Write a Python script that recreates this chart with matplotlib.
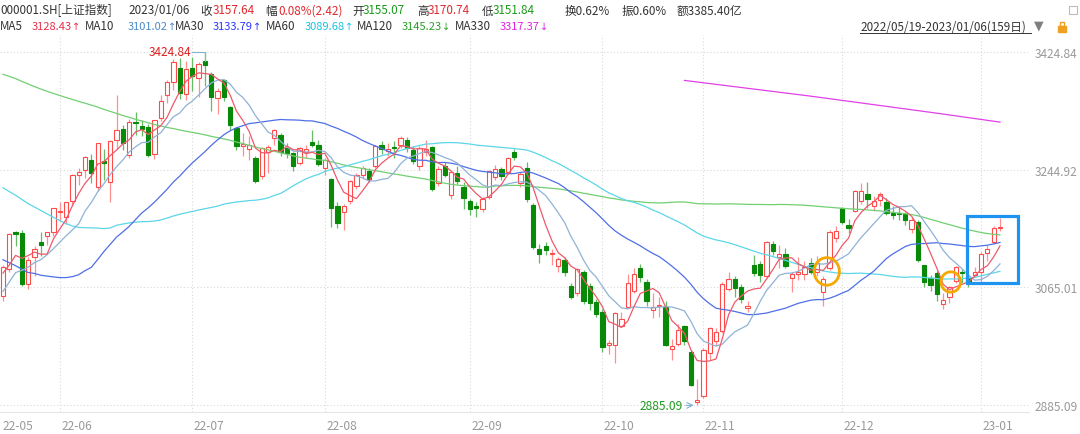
import matplotlib
matplotlib.use("Agg")
import matplotlib.pyplot as plt
from matplotlib.patches import Ellipse, Rectangle
import numpy as np
import pandas as pd

plt.rcParams['font.family'] = ['Noto Sans CJK SC', 'DejaVu Sans']

# closes before the window (2021-11-18 .. 2022-05-18), only used to start the moving averages
prior_close = [3520.71, 3560.37, 3582.08, 3589.09, 3592.70, 3584.18, 3564.09, 3562.70, 3563.89,
               3576.89, 3573.84, 3607.43, 3589.31, 3595.09, 3637.57, 3673.04, 3666.35, 3681.08, 3661.53,
               3647.63, 3675.02, 3632.36, 3593.60, 3625.13, 3622.62, 3643.34, 3618.05, 3615.97, 3630.11,
               3597.00, 3619.19, 3639.78,
               3632.33, 3595.18, 3586.08, 3579.54, 3593.52, 3567.44, 3597.43, 3555.26, 3521.26, 3541.67,
               3569.91, 3558.18, 3555.06, 3522.57, 3524.11, 3433.06, 3455.67, 3394.25, 3361.44,
               3429.58, 3452.63, 3479.95, 3485.91, 3462.95, 3428.88, 3446.09, 3465.83, 3468.04, 3490.76,
               3490.61, 3457.15, 3489.15, 3429.96, 3451.41, 3462.31,
               3488.83, 3484.19, 3481.11, 3447.65, 3372.86, 3293.53, 3256.39, 3296.09, 3309.75, 3223.53,
               3063.97, 3170.71, 3215.04, 3251.07, 3253.69, 3259.86, 3271.03, 3250.26, 3212.24, 3214.50,
               3203.94, 3266.60, 3252.20,
               3282.72, 3283.43, 3236.70, 3251.85, 3167.13, 3213.33, 3186.82, 3225.64, 3211.24, 3195.52,
               3194.03, 3151.05, 3079.81, 3086.92, 2928.51, 2886.43, 2958.28, 2975.48, 3047.06,
               3067.76, 3001.56, 3004.14, 3035.84, 3058.70, 3054.99, 3084.28, 3073.75, 3093.70, 3085.98]

# daily candles 2022-05-19 .. 2023-01-06 (159 days)
opens = [3051.7, 3093, 3150, 3148, 3071, 3112, 3135, 3143, 3150,
         3180, 3172, 3197, 3236, 3245, 3260, 3218, 3258, 3226, 3290, 3307, 3267, 3318, 3312, 3310, 3268,
         3324, 3358, 3378, 3400, 3360,
         3400, 3385, 3411, 3391, 3354, 3381, 3341, 3308, 3281, 3277, 3262, 3235, 3272, 3293, 3297, 3278,
         3270, 3255, 3272, 3287, 3282,
         3247, 3230, 3190, 3180, 3197, 3220, 3237, 3243, 3250, 3282, 3274, 3279, 3282, 3290, 3275, 3251,
         3272, 3279, 3224, 3251, 3206, 3240, 3218,
         3197, 3189, 3185, 3203, 3233, 3246, 3242, 3272, 3225, 3248, 3191, 3123, 3128, 3116, 3098, 3107,
         3068, 3057, 3089, 3068, 3043,
         3027, 2977, 2977, 3006, 3035, 3060, 3094, 3073, 3030, 3036, 3035, 2971, 2979, 3006, 2967, 2890,
         2899, 2965, 2983, 2999, 3063, 3078, 3065, 3033, 3099, 3101, 3083, 3131, 3112, 3116, 3079, 3085,
         3086, 3102, 3089, 3058, 3095, 3141,
         3187, 3161, 3182, 3197, 3207, 3189, 3199, 3196, 3179, 3178, 3177, 3155, 3165, 3099, 3079, 3087,
         3040, 3050, 3075, 3089, 3080, 3084,
         3088, 3118, 3134, 3155.07]
highs = [3099.5, 3148, 3151.5, 3152, 3112, 3128, 3150, 3150, 3187,
         3196, 3196, 3238, 3247, 3266, 3269, 3286, 3276, 3290, 3358, 3313, 3322, 3333, 3320, 3314, 3321,
         3358, 3381, 3414, 3415, 3410,
         3417, 3409, 3424.84, 3394, 3370, 3383, 3342, 3310, 3300, 3296, 3265, 3280, 3283, 3307, 3300, 3286,
         3272, 3280, 3282, 3306, 3290,
         3262, 3232, 3196, 3192, 3229, 3240, 3250, 3247, 3283, 3288, 3285, 3288, 3296, 3294, 3281, 3281,
         3290, 3281, 3251, 3256, 3243, 3250, 3226,
         3200, 3196, 3203, 3245, 3252, 3249, 3264, 3277, 3241, 3256, 3194, 3132, 3135, 3124, 3111, 3111,
         3072, 3095, 3092, 3072, 3047,
         3032, 2985, 3027, 3028, 3085, 3095, 3101, 3078, 3056, 3050, 3045, 2986, 3010, 3008, 2970, 2925,
         2972, 3005, 3003, 3073, 3089, 3082, 3070, 3045, 3114, 3106, 3136, 3136, 3130, 3125, 3089, 3112,
         3106, 3110, 3113, 3083, 3152, 3159,
         3188, 3170, 3214, 3224, 3226, 3205, 3210, 3201, 3190, 3188, 3180, 3172, 3168, 3100, 3084, 3090,
         3056, 3068, 3098, 3093, 3083, 3097,
         3119, 3130, 3159, 3170.74]
lows = [3044, 3088, 3129, 3068, 3062, 3083, 3113, 3130, 3144,
        3166, 3162, 3190, 3222, 3232, 3224, 3212, 3229, 3196, 3277, 3275, 3262, 3298, 3296, 3264, 3261,
        3319, 3346, 3366, 3353, 3351,
        3365, 3356, 3373, 3335, 3330, 3350, 3305, 3275, 3265, 3260, 3225, 3230, 3240, 3282, 3265, 3262,
        3243, 3252, 3262, 3279, 3250,
        3236, 3157, 3156, 3152, 3193, 3215, 3230, 3226, 3247, 3268, 3266, 3262, 3278, 3271, 3254, 3245,
        3266, 3212, 3220, 3233, 3200, 3223, 3185,
        3175, 3172, 3180, 3200, 3229, 3229, 3238, 3259, 3218, 3196, 3123, 3102, 3114, 3100, 3088, 3082,
        3048, 3052, 3040, 3031, 3020,
        2966, 2964, 2950, 3004, 3033, 3056, 3074, 3036, 3018, 3020, 2975, 2955, 2975, 2978, 2914, 2885.09,
        2896, 2955, 2977, 2996, 3060, 3050, 3042, 3028, 3082, 3074, 3080, 3114, 3095, 3094, 3058, 3077,
        3076, 3085, 3083, 3037, 3092, 3135,
        3162, 3148, 3180, 3192, 3187, 3182, 3190, 3175, 3170, 3168, 3160, 3148, 3104, 3066, 3060, 3045,
        3032, 3042, 3072, 3072, 3066, 3081,
        3074, 3105, 3132, 3151.84]
closes = [3096.96, 3146.57, 3146.86, 3070.93, 3107.46, 3123.11, 3130.24, 3149.06, 3186.43,
          3182.16, 3195.46, 3236.37, 3241.76, 3263.79, 3238.95, 3284.83, 3255.55, 3288.91, 3305.41,
          3285.38, 3316.79, 3315.43, 3306.72, 3267.20, 3320.15, 3349.75, 3379.19, 3409.21, 3361.52, 3398.62,
          3387.64, 3405.43, 3404.03, 3355.35, 3364.40, 3356.08, 3313.58, 3281.47, 3284.29, 3281.74,
          3228.06, 3278.10, 3279.43, 3304.72, 3272.00, 3269.97, 3250.39, 3277.44, 3275.76, 3282.58, 3253.24,
          3259.96, 3186.27, 3163.67, 3189.04, 3227.03, 3236.93, 3247.43, 3230.02, 3281.67, 3276.89,
          3276.09, 3277.88, 3292.53, 3277.54, 3258.08, 3277.79, 3276.22, 3215.20, 3246.25, 3236.22,
          3240.73, 3227.22, 3202.14,
          3184.98, 3186.48, 3199.91, 3243.45, 3246.29, 3235.59, 3262.05, 3263.80, 3237.54, 3199.92,
          3126.40, 3115.60, 3122.41, 3117.18, 3108.91, 3088.37, 3051.23, 3093.86, 3045.07, 3041.20, 3024.39,
          2974.15, 2979.79, 3025.51, 3016.36, 3071.99, 3084.94, 3080.96, 3044.38, 3035.05, 3038.93,
          2977.56, 2976.28, 2999.50, 2982.90, 2915.93, 2893.48,
          2969.20, 3003.37, 2997.81, 3070.80, 3077.82, 3064.49, 3048.17, 3036.13, 3087.29, 3083.40,
          3134.08, 3119.98, 3115.43, 3097.24, 3085.04, 3088.94, 3096.91, 3089.31, 3101.69, 3078.55,
          3149.75, 3151.34,
          3165.47, 3156.14, 3211.81, 3212.53, 3199.62, 3197.35, 3206.95, 3179.04, 3176.33, 3176.53,
          3168.65, 3167.86, 3107.12, 3073.77, 3068.41, 3054.43, 3045.87, 3065.56, 3095.57, 3087.40,
          3073.70, 3089.26,
          3116.51, 3123.52, 3155.22, 3157.64]

# MA330 (only drawn for the last part of the window)
ma330_idx = [108, 118, 128, 138, 148, 158]
ma330_val = [3381, 3369, 3357, 3344, 3331, 3317.37]

month_idx = [-0.3, 9, 30, 51, 74, 95, 111, 133, 155]
month_lbl = ['22-05', '22-06', '22-07', '22-08', '22-09', '22-10', '22-11', '22-12', '23-01']
ytick_val = [3424.84, 3244.92, 3065.01, 2885.09]

n = len(closes)
x = np.arange(n)
allc = pd.Series(prior_close + closes)
npr = len(prior_close)
ma = {}
for w in [5, 10, 30, 60, 120]:
    ma[w] = allc.rolling(w).mean().values[npr:]

W, H = 1080, 435
fig = plt.figure(figsize=(W / 100, H / 100), dpi=100)
fig.patch.set_facecolor('white')
ax = fig.add_axes([0, 1 - 413 / H, 1029 / W, (413 - 36) / H])
ax.set_xlim(-0.475, 162.6)
ax.set_ylim(2875.0, 3450.3)

# grid
grid_c = '#d9d9d9'
for v in ytick_val:
    ax.axhline(v, color=grid_c, lw=0.8, ls=(0, (1, 2)), zorder=0)
for m in month_idx[1:]:
    ax.axvline(m, color=grid_c, lw=0.8, ls=(0, (1, 2)), zorder=0)

# candles
up_c, up_w = '#ff4a4a', '#ff9090'
dn_c, dn_w = '#088a08', '#66bb66'
for i in range(n):
    o, h, l, c = opens[i], highs[i], lows[i], closes[i]
    up = c >= o
    ax.vlines(i, l, h, color=up_w if up else dn_w, lw=0.9, zorder=2)
    body = max(abs(c - o), 0.9)
    ax.bar(i, body, bottom=min(o, c), width=0.68,
           facecolor='white' if up else dn_c, edgecolor=up_c if up else dn_c,
           linewidth=0.8, zorder=3)

# moving averages
ax.plot(x, ma[120], color='#72cf72', lw=0.9, zorder=4)
ax.plot(x, ma[60], color='#5cd6e8', lw=0.9, zorder=4)
ax.plot(x, ma[30], color='#4f6fe6', lw=0.9, zorder=4)
ax.plot(x, ma[10], color='#8fb2d6', lw=0.9, zorder=4)
ax.plot(x, ma[5], color='#ee5a6c', lw=0.9, zorder=4)
ax.plot(ma330_idx, ma330_val, color='#e040e8', lw=0.9, zorder=4)

# high / low marks
hi = int(np.argmax(highs))
lo = int(np.argmin(lows))
ax.plot([hi - 2.0, hi, hi], [highs[hi], highs[hi], highs[hi] - 14], color='#7fb3d0', lw=0.8, zorder=5)
ax.text(hi - 2.2, highs[hi], f'{highs[hi]:.2f}', color='#dd1f1f', fontsize=8.6,
        ha='right', va='center', zorder=5)
ax.annotate('', xy=(lo - 0.1, lows[lo]), xytext=(lo - 2.2, lows[lo]),
            arrowprops=dict(arrowstyle='->', color='#7fb3d0', lw=0.8), zorder=5)
ax.text(lo - 2.2, lows[lo], f'{lows[lo]:.2f}', color='#1f9a1f', fontsize=8.6,
        ha='right', va='center', zorder=5)

# highlight marks
ax.add_patch(Ellipse((130.55, 3089.5), 4.0, 42, fill=False, ec='#f5a800', lw=2.0, zorder=6))
ax.add_patch(Ellipse((150.2, 3073.4), 3.1, 31, fill=False, ec='#f5a800', lw=2.0, zorder=6))
ax.add_patch(Rectangle((152.8, 3071.4), 8.1, 103.2, fill=False, ec='#1f93f0', lw=2.3, zorder=6))

# axes
for s in ['top', 'left', 'right']:
    ax.spines[s].set_visible(False)
ax.spines['bottom'].set_color('#e6e6e6')
ax.yaxis.tick_right()
ax.set_yticks(ytick_val)
ax.set_yticklabels([f'{v:.2f}' for v in ytick_val], color='#999999', fontsize=8.6)
ax.tick_params(axis='y', length=0, pad=4)
ax.set_xticks([])
for m, lbl in zip(month_idx, month_lbl):
    ax.text(m + 0.25, -0.035, lbl, transform=ax.get_xaxis_transform(), color='#999999',
            fontsize=8.6, ha='left', va='center')

# header
FS = 8.4
def ft(px, py, s, color='#333333', **kw):
    return fig.text(px / W, 1 - py / H, s, color=color, fontsize=kw.pop('fontsize', FS),
                    va='center', ha='left', **kw)

red, green, gray = '#e0282e', '#1a9a1a', '#333333'
ft(0, 11, '000001.SH[上证指数]')
ft(128, 11, '2023/01/06')
ft(200, 11, '收'); ft(213, 11, '3157.64', red)
ft(265, 11, '幅'); ft(278, 11, '0.08%(2.42)', red)
ft(352, 11, '开'); ft(363, 11, '3155.07', green)
ft(417, 11, '高'); ft(428, 11, '3170.74', red)
ft(482, 11, '低'); ft(493, 11, '3151.84', green)
ft(565, 11, '换0.62%')
ft(622, 11, '振0.60%')
ft(677, 11, '额3385.40亿')

ma_hdr = [(0, 'MA5', 32, '3128.43', '↑', '#e8304a'),
          (85, 'MA10', 128, '3101.02', '↑', '#4a8ac8'),
          (175, 'MA30', 213, '3133.79', '↑', '#2a35ff'),
          (266, 'MA60', 305, '3089.68', '↑', '#18c4e0'),
          (357, 'MA120', 402, '3145.23', '↓', '#2aa02a'),
          (455, 'MA330', 500, '3317.37', '↓', '#e020e0')]
renderer = fig.canvas.get_renderer()
for lx, lt, vx, vt, arr, col in ma_hdr:
    ft(lx, 27, lt)
    t = ft(vx, 27, vt, col, fontsize=8.0)
    bb = t.get_window_extent(renderer)
    fig.text(bb.x1 / W + 0.3 / W, 1 - 27 / H, arr, color=col, fontsize=7,
             family='DejaVu Sans', va='center', ha='left')

ft(860, 27, '2022/05/19-2023/01/06(159日)')
fig.add_artist(plt.Line2D([860 / W, 1031 / W], [1 - 34 / H, 1 - 34 / H], color='#333333', lw=0.7))
ft(1034, 26, '▼', '#808080', family='DejaVu Sans', fontsize=9)
fig.add_artist(Rectangle((1058 / W, 1 - 33 / H), 8 / W, 6 / H, color='#f0a020'))
fig.add_artist(Rectangle((1060 / W, 1 - 27 / H), 4 / W, 4 / H, fill=False, ec='#f0a020', lw=1))
fig.add_artist(Rectangle((1069 / W, 1 - 15 / H), 8 / W, 8 / H, fill=False, ec='#bbbbbb', lw=0.8))

fig.savefig('out.png', dpi=100, facecolor='white')
